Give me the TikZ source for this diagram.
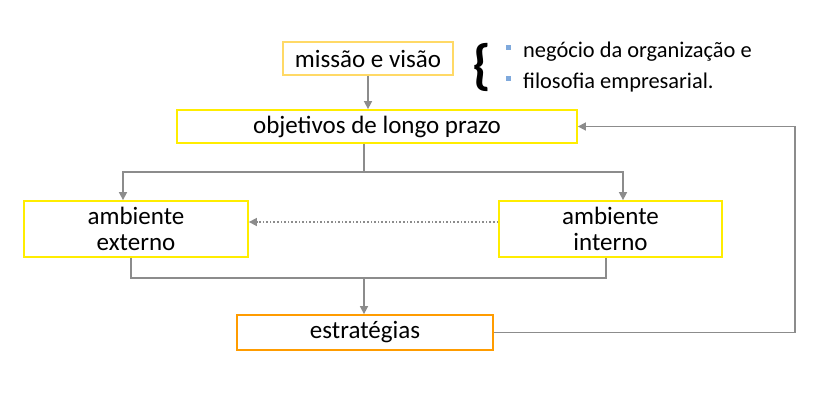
\documentclass[tikz,border=0pt]{standalone}
\usepackage{fontspec}
\setmainfont{Carlito}
\usetikzlibrary{arrows.meta}
\definecolor{linha}{HTML}{8C8C8C}
\definecolor{ouro}{HTML}{FFD966}
\definecolor{amarelo}{HTML}{FFED00}
\definecolor{laranja}{HTML}{FF9C00}
\definecolor{azul}{HTML}{7FA9DC}
\begin{document}
\begin{tikzpicture}[x=1pt,y=-1pt,
    caixa/.style={draw=amarelo,line width=1.8pt,inner sep=0pt,align=center,
        font=\fontsize{25}{26}\selectfont},
    link/.style={draw=linha,line width=1.6pt},
    seta/.style={link,-{Triangle[length=8pt,width=8pt]}}]
    \useasboundingbox (0,0) rectangle (826,402);
    % caixas
    \node[caixa,draw=ouro,minimum width=170pt,minimum height=33pt] (mv) at (368,58.5) {missão e visão};
    \node[caixa,minimum width=400pt,minimum height=33pt] (obj) at (377,126.5) {objetivos de longo prazo};
    \node[caixa,minimum width=224pt,minimum height=56pt] (ext) at (136,229) {ambiente\\externo};
    \node[caixa,minimum width=223pt,minimum height=56pt] (int) at (610.5,229) {ambiente\\interno};
    \node[caixa,draw=laranja,minimum width=256pt,minimum height=35pt] (est) at (365,332.5) {estratégias};
    % chave e itens
    \node[anchor=base,inner sep=0pt,font=\fontsize{55}{55}\selectfont\bfseries] (chave) at (482,83) {\{};
    \foreach \y/\txt [count=\k] in {57/negócio da organização e,88/filosofia empresarial.}{
        \fill[azul] (505.5,\y-7.5) rectangle ++(5,-5);
        \node[anchor=base west,inner sep=0pt,font=\fontsize{22.4}{24}\selectfont] (item\k) at (523,\y) {\txt};
    }
    % ligacoes
    \coordinate (split) at (364,172);
    \coordinate (merge) at (364,278);
    \coordinate (ret) at (795,0);
    \draw[seta] (mv.south) -- (mv.south |- obj.north);
    \draw[link] (obj.south -| split) -- (split);
    \draw[seta] (split) -| ([xshift=-13pt]ext.north);
    \draw[seta] (split) -| ([xshift=12.5pt]int.north);
    \draw[seta,dotted] ([yshift=7pt]int.west) -- ([yshift=7pt]ext.east);
    \draw[link] ([xshift=-5pt]ext.south) |- (merge);
    \draw[link] ([xshift=-4.5pt]int.south) |- (merge);
    \draw[seta] (merge) -- (merge |- est.north);
    \draw[seta] (est.east) -| (ret |- obj.east) -- (obj.east);
\end{tikzpicture}
\end{document}
